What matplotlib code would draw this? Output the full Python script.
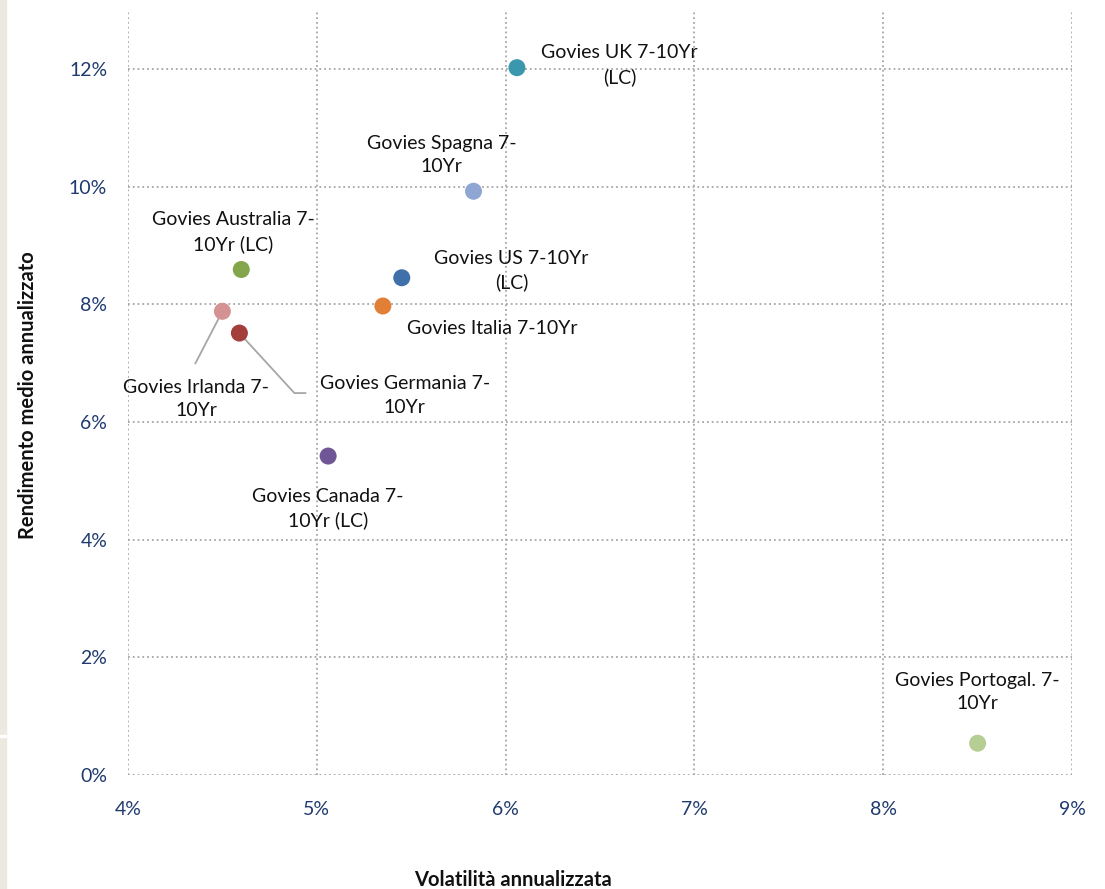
import matplotlib.pyplot as plt
from matplotlib.patches import Rectangle
from matplotlib.ticker import FuncFormatter

plt.rcParams['font.family'] = ['Lato', 'DejaVu Sans']

# data (percent)
names = ['Govies UK 7-10Yr\n(LC)', 'Govies Spagna 7-\n10Yr', 'Govies Australia 7-\n10Yr (LC)',
         'Govies US 7-10Yr\n(LC)', 'Govies Italia 7-10Yr', 'Govies Irlanda 7-\n10Yr',
         'Govies Germania 7-\n10Yr', 'Govies Canada 7-\n10Yr (LC)', 'Govies Portogal. 7-\n10Yr']
volatility = [6.06, 5.83, 4.60, 5.45, 5.35, 4.50, 4.59, 5.06, 8.50]
returns = [12.02, 9.92, 8.59, 8.45, 7.97, 7.88, 7.51, 5.42, 0.54]
colors = ['#3A97AE', '#8FA5D2', '#83A54B', '#3F70AA', '#E07F35', '#D59293',
          '#A43E3C', '#6E5697', '#B6CE94']

# label offsets in points from each marker
offsets = [(74, 2), (-23, 26), (-6, 27), (79, 5), (79, -16), (-19, -63),
           (119, -45), (0, -38), (0, 37)]

fig = plt.figure(figsize=(11.05, 8.89), dpi=100)
fig.patches.append(Rectangle((0, 0), 6 / 1105, 1, transform=fig.transFigure,
                             color='#ECEAE0', zorder=0))
fig.patches.append(Rectangle((0, 152 / 889), 6 / 1105, 2 / 889, transform=fig.transFigure,
                             color='white', zorder=1))

ax = fig.add_axes([128 / 1105, 114 / 889, 944 / 1105, 765 / 889])
ax.set_xlim(4, 9)
ax.set_ylim(0, 13)
ax.scatter(volatility, returns, s=150, c=colors, zorder=3, linewidths=0)

for i, name in enumerate(names):
    dx, dy = offsets[i]
    ax.annotate(name, (volatility[i], returns[i]), xytext=(dx, dy),
                textcoords='offset points', ha='center', va='center',
                fontsize=14, linespacing=1.45, color='#111111', zorder=4)

# leader lines (pixel offsets from marker)
inv = ax.transData.inverted()
p = ax.transData.transform((volatility[5], returns[5]))
a = inv.transform((p[0] - 27, p[1] - 52))
ax.plot([volatility[5], a[0]], [returns[5], a[1]], color='#A6A6A6', lw=1.3, zorder=2)
p = ax.transData.transform((volatility[6], returns[6]))
a = inv.transform((p[0] + 55, p[1] - 60))
b = inv.transform((p[0] + 66, p[1] - 60))
ax.plot([volatility[6], a[0], b[0]], [returns[6], a[1], b[1]],
        color='#A6A6A6', lw=1.3, zorder=2)

ax.set_xticks([4, 5, 6, 7, 8, 9])
ax.set_yticks([0, 2, 4, 6, 8, 10, 12])
ax.xaxis.set_major_formatter(FuncFormatter(lambda v, p: f'{v:.0f}%'))
ax.yaxis.set_major_formatter(FuncFormatter(lambda v, p: f'{v:.0f}%'))
ax.tick_params(length=0, labelsize=14, labelcolor='#1F3A6E')
ax.tick_params(axis='x', pad=19)
ax.tick_params(axis='y', pad=15)
for s in ax.spines.values():
    s.set_visible(False)
ax.grid(True, linestyle=':', color='#A6A6A6', lw=1.3)
ax.set_axisbelow(True)

fig.text(513 / 1105, 9 / 889, 'Volatilità annualizzata', ha='center', va='center',
         fontsize=14.5, fontweight='bold', color='#111111')
fig.text(28 / 1105, 494 / 889, 'Rendimento medio annualizzato', ha='center', va='center',
         rotation=90, fontsize=14.5, fontweight='bold', color='#111111')

fig.savefig('out.png', dpi=100)
